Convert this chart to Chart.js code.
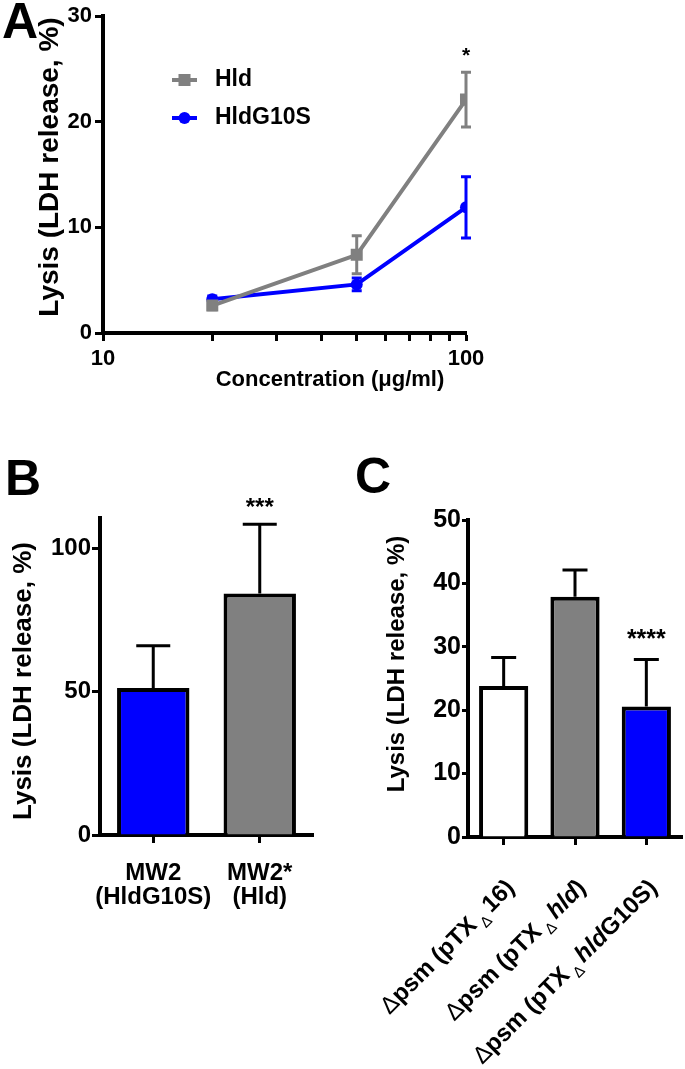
<!DOCTYPE html>
<html>
<head>
<meta charset="utf-8">
<script src="https://cdn.jsdelivr.net/npm/chart.js@4.4.1/dist/chart.umd.min.js"></script>
<style>
  html, body { margin: 0; padding: 0; background: #fff; }
  body { width: 685px; height: 1069px; position: relative; overflow: hidden; font-family: 'Liberation Sans', Arial, sans-serif; }
  .panel { position: absolute; }
  .letter { position: absolute; z-index: 2; font-weight: bold; font-size: 50px; line-height: 50px; color: #000; }
</style>
</head>
<body>
<div class="panel" style="left:0;top:0;width:685px;height:400px"><canvas id="chartA"></canvas></div>
<div class="panel" style="left:0;top:430px;width:330px;height:639px"><canvas id="chartB"></canvas></div>
<div class="panel" style="left:330px;top:430px;width:355px;height:639px"><canvas id="chartC"></canvas></div>
<div class="letter" style="left:2px;top:-4px">A</div>
<div class="letter" style="left:5px;top:453px">B</div>
<div class="letter" style="left:355px;top:451px">C</div>
<script>
// panel A: lysis vs concentration
const concentrations = [20, 50, 100];
const hldMean = [2.6, 7.4, 22.1];
const hldErr = [0.4, 1.8, 2.6];
const g10sMean = [3.2, 4.6, 11.9];
const g10sErr = [0.3, 0.6, 2.9];
const concTickLabels = [10, 100];
const signifA = ['', '', '*'];

// panel B: strains
const strainLabels = [['MW2', '(HldG10S)'], ['MW2*', '(Hld)']];
const strainMean = [51.2, 84.2];
const strainErr = [14.8, 24.1];
const strainColors = ['#0000ff', '#808080'];
const signifB = ['', '***'];

// panel C: complemented psm mutant
const mutantLabels = ['Δpsm (pTXΔ16)', 'Δpsm (pTXΔhld)', 'Δpsm (pTXΔhldG10S)'];
const mutantMean = [23.8, 37.9, 20.6];
const mutantErr = [4.5, 4.2, 7.4];
const mutantColors = ['#ffffff', '#808080', '#0000ff'];
const signifC = ['', '', '****'];

const yTitle = 'Lysis (LDH release, %)';
const black = '#000';
const fontFamily = "'Liberation Sans', Arial, Helvetica, sans-serif";

Chart.defaults.font.family = fontFamily;
Chart.defaults.font.weight = 'bold';
Chart.defaults.color = black;
Chart.defaults.animation = false;
Chart.defaults.maintainAspectRatio = false;
Chart.defaults.plugins.legend.display = false;
Chart.defaults.plugins.tooltip.enabled = false;

function axisLine(tickLength) {
  return {
    border: { display: true, width: 4, color: black },
    grid: { display: true, drawOnChartArea: false, drawTicks: true, tickLength: tickLength, tickWidth: 3, tickColor: black, color: black, offset: false }
  };
}

function drawText(ctx, text, x, y, size, opts = {}) {
  ctx.save();
  ctx.translate(x, y);
  if (opts.rotate) ctx.rotate(opts.rotate);
  ctx.font = `bold ${size}px ${fontFamily}`;
  ctx.fillStyle = black;
  ctx.textAlign = opts.align || 'center';
  ctx.textBaseline = opts.baseline || 'middle';
  ctx.fillText(text, 0, 0);
  ctx.restore();
}

// error bars for the bar charts (upper half only)
const barErrors = {
  id: 'barErrors',
  afterDatasetsDraw(chart, args, opts) {
    const { ctx, scales: { y } } = chart;
    const ds = chart.data.datasets[0];
    const meta = chart.getDatasetMeta(0);
    ctx.save();
    ctx.strokeStyle = black;
    ctx.lineWidth = 3;
    meta.data.forEach((bar, i) => {
      const top = y.getPixelForValue(ds.data[i] + ds.errors[i]);
      ctx.beginPath();
      ctx.moveTo(bar.x, bar.y);
      ctx.lineTo(bar.x, top);
      ctx.moveTo(bar.x - opts.cap / 2, top);
      ctx.lineTo(bar.x + opts.cap / 2, top);
      ctx.stroke();
      if (ds.signif[i]) drawText(ctx, ds.signif[i], bar.x, top - opts.starGap, opts.starSize, { baseline: 'alphabetic' });
    });
    ctx.restore();
    drawText(ctx, yTitle, opts.titleX, opts.titleY, opts.titleSize, { rotate: -Math.PI / 2 });
  }
};

// panel A
const panelA = {
  id: 'panelA',
  beforeDatasetsDraw(chart) {
    const { ctx, scales: { x, y } } = chart;
    ctx.save();
    ctx.lineWidth = 3;
    chart.data.datasets.forEach(ds => {
      ctx.strokeStyle = ds.borderColor;
      ds.data.forEach((pt, i) => {
        const px = x.getPixelForValue(pt.x);
        const top = y.getPixelForValue(pt.y + ds.errors[i]);
        const bot = y.getPixelForValue(pt.y - ds.errors[i]);
        ctx.beginPath();
        ctx.moveTo(px, top); ctx.lineTo(px, bot);
        ctx.moveTo(px - 5, top); ctx.lineTo(px + 5, top);
        ctx.moveTo(px - 5, bot); ctx.lineTo(px + 5, bot);
        ctx.stroke();
      });
    });
    ctx.restore();
  },
  afterDraw(chart) {
    const { ctx, scales: { x, y } } = chart;
    // significance over the Hld series
    const hld = chart.data.datasets[0];
    hld.data.forEach((pt, i) => {
      if (!signifA[i]) return;
      const top = y.getPixelForValue(pt.y + hld.errors[i]);
      drawText(ctx, signifA[i], x.getPixelForValue(pt.x), top - 10, 21, { baseline: 'alphabetic' });
    });
    // legend
    chart.data.datasets.forEach((ds, i) => {
      const ly = 80 + i * 38;
      ctx.save();
      ctx.strokeStyle = ds.borderColor;
      ctx.fillStyle = ds.borderColor;
      ctx.lineWidth = 4;
      ctx.beginPath(); ctx.moveTo(172, ly); ctx.lineTo(197, ly); ctx.stroke();
      Chart.helpers.drawPoint(ctx, { pointStyle: ds.pointStyle, radius: ds.pointRadius, borderWidth: 0, rotation: 0 }, 184.5, ly);
      ctx.restore();
      drawText(ctx, ds.label, 215, ly, 23, { align: 'left' });
    });
    drawText(ctx, 'Concentration (μg/ml)', 330, 380, 22);
    drawText(ctx, yTitle, 50, 167, 28, { rotate: -Math.PI / 2 });
  }
};

new Chart(document.getElementById('chartA'), {
  type: 'line',
  data: {
    datasets: [
      {
        label: 'Hld',
        data: concentrations.map((c, i) => ({ x: c, y: hldMean[i] })),
        errors: hldErr,
        borderColor: '#808080', backgroundColor: '#808080',
        borderWidth: 4, pointStyle: 'rect', pointRadius: 8.5, pointBorderWidth: 0
      },
      {
        label: 'HldG10S',
        data: concentrations.map((c, i) => ({ x: c, y: g10sMean[i] })),
        errors: g10sErr,
        borderColor: '#0000ff', backgroundColor: '#0000ff',
        borderWidth: 4, pointStyle: 'circle', pointRadius: 6, pointBorderWidth: 0
      }
    ]
  },
  options: {
    layout: { padding: { top: 15, right: 219, left: 0, bottom: 0 } },
    scales: {
      x: {
        type: 'logarithmic', min: 10, max: 100,
        ...axisLine(8),
        ticks: { font: { size: 22 }, padding: 5, maxRotation: 0, autoSkip: false,
                 callback: v => concTickLabels.includes(v) ? String(v) : '' },
        afterBuildTicks: s => { s.ticks = s.ticks.filter(t => t.value % 10 === 0); },
        afterFit: s => { s.height = 67; }
      },
      y: {
        min: 0, max: 30,
        ...axisLine(8),
        ticks: { stepSize: 10, font: { size: 22 }, padding: 3 },
        afterFit: s => { s.width = 103; }
      }
    }
  },
  plugins: [panelA]
});

// panel B
new Chart(document.getElementById('chartB'), {
  type: 'bar',
  data: {
    labels: strainLabels,
    datasets: [{
      data: strainMean, errors: strainErr, signif: signifB,
      backgroundColor: strainColors, borderColor: black, borderWidth: 4,
      barPercentage: 0.68, categoryPercentage: 1
    }]
  },
  options: {
    layout: { padding: { top: 88, right: 17, left: 0, bottom: 0 } },
    scales: {
      x: {
        ...axisLine(8),
        ticks: { font: { size: 24, lineHeight: 1 }, padding: 18, maxRotation: 0, autoSkip: false },
        afterFit: s => { s.height = 234; }
      },
      y: {
        min: 0, max: 110.5,
        ...axisLine(8),
        ticks: { stepSize: 50, font: { size: 24 }, padding: 1 },
        afterBuildTicks: s => { s.ticks = s.ticks.filter(t => t.value % 50 === 0); },
        afterFit: s => { s.width = 100; }
      }
    },
    plugins: { barErrors: { cap: 34, starGap: 9, starSize: 24, titleX: 24, titleY: 251, titleSize: 26 } }
  },
  plugins: [barErrors]
});

// panel C: tick labels with plain delta, italic gene name and subscript delta
function richParts(label) {
  const size = 24;
  const reg = `bold ${size}px ${fontFamily}`;
  const ital = `italic bold ${size}px ${fontFamily}`;
  const delta = `${size}px ${fontFamily}`;
  const sub = `15px ${fontFamily}`;
  const m = label.match(/^Δ(\w+) \((\w+)Δ(.*)\)$/);
  const gene = m[3].match(/^(hld)?(.*)$/);
  const parts = [
    { text: 'Δ', font: delta, dy: 0 },
    { text: m[1], font: reg, dy: 0 },
    { text: ' (' + m[2], font: reg, dy: 0 },
    { text: ' Δ ', font: sub, dy: 7 }
  ];
  if (gene[1]) parts.push({ text: gene[1], font: ital, dy: 0 });
  parts.push({ text: gene[2] + ')', font: reg, dy: 0 });
  return parts;
}

const slantedLabels = {
  id: 'slantedLabels',
  afterDraw(chart) {
    const { ctx, scales: { x } } = chart;
    chart.data.labels.forEach((label, i) => {
      const parts = richParts(label);
      ctx.save();
      ctx.translate(x.getPixelForTick(i) + 12, x.top + 52);
      ctx.rotate(-Math.PI / 4);
      ctx.fillStyle = black;
      ctx.textAlign = 'left';
      ctx.textBaseline = 'alphabetic';
      let total = 0;
      parts.forEach(p => { ctx.font = p.font; p.w = ctx.measureText(p.text).width; total += p.w; });
      let cx = -total;
      parts.forEach(p => { ctx.font = p.font; ctx.fillText(p.text, cx, p.dy); cx += p.w; });
      ctx.restore();
    });
  }
};

new Chart(document.getElementById('chartC'), {
  type: 'bar',
  data: {
    labels: mutantLabels,
    datasets: [{
      data: mutantMean, errors: mutantErr, signif: signifC,
      backgroundColor: mutantColors, borderColor: black, borderWidth: 4,
      barPercentage: 0.69, categoryPercentage: 1
    }]
  },
  options: {
    layout: { padding: { top: 90, right: 3, left: 0, bottom: 0 } },
    scales: {
      x: {
        ...axisLine(8),
        ticks: { display: false },
        afterFit: s => { s.height = 232; }
      },
      y: {
        min: 0, max: 50,
        ...axisLine(6),
        ticks: { stepSize: 10, font: { size: 25 }, padding: 1 },
        afterFit: s => { s.width = 138; }
      }
    },
    plugins: { barErrors: { cap: 25, starGap: 12, starSize: 25, titleX: 67, titleY: 234, titleSize: 24 } }
  },
  plugins: [barErrors, slantedLabels]
});
</script>
</body>
</html>
